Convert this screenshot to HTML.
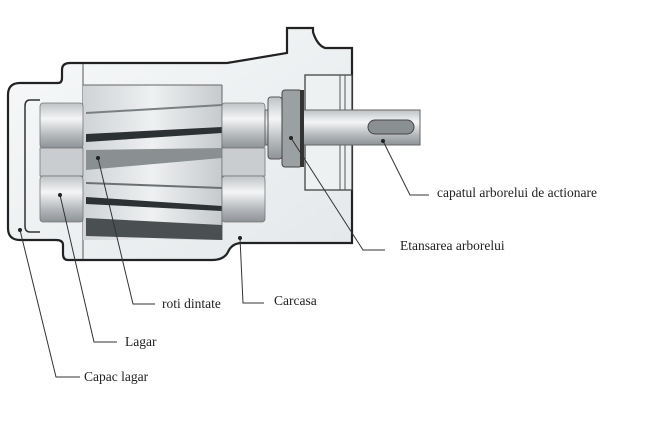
<!DOCTYPE html>
<html><head><meta charset="utf-8"><style>
html,body{margin:0;padding:0;background:#fff;width:648px;height:423px;overflow:hidden}
svg{display:block}
</style></head><body>
<svg width="648" height="423" viewBox="0 0 648 423" xmlns="http://www.w3.org/2000/svg">
<defs>
<linearGradient id="cyl" x1="0" y1="0" x2="0" y2="1">
<stop offset="0" stop-color="#bfc3c6"/><stop offset="0.35" stop-color="#f4f5f6"/><stop offset="0.7" stop-color="#b7bbbe"/><stop offset="1" stop-color="#8d9296"/></linearGradient>
<linearGradient id="gear" x1="0" y1="0" x2="1" y2="0">
<stop offset="0" stop-color="#cfd3d6"/><stop offset="0.5" stop-color="#eef0f1"/><stop offset="1" stop-color="#c6cacd"/></linearGradient>
<linearGradient id="bg" x1="0" y1="0" x2="1" y2="1">
<stop offset="0" stop-color="#f7f9fa"/><stop offset="1" stop-color="#e4e8ea"/></linearGradient>
</defs>
<path d="M20,83 L58,83 Q62,83 62,78 L62,70 Q62,63 70,63 L227,63 L287,53 L287,28 L313,28 L313,32 Q317,45 325,48 L352,48 L352,243 L242,243 Q232,243 228,252 Q224,260 212,260 L68,260 Q63,260 63,254 L63,245 Q63,240 56,240 L20,240 Q8,240 8,228 L8,95 Q8,83 20,83 Z" fill="url(#bg)" stroke="#222" stroke-width="2.2"/>
<path d="M40,100 L30,100 Q25,100 25,106 L25,226 Q25,232 30,232 L40,232" fill="none" stroke="#333" stroke-width="1.5"/>
<line x1="83" y1="64" x2="83" y2="259" stroke="#555" stroke-width="1"/>
<rect x="83" y="85" width="139" height="155" fill="url(#gear)"/>
<line x1="83" y1="85" x2="222" y2="85" stroke="#666" stroke-width="1"/>
<line x1="222" y1="85" x2="222" y2="240" stroke="#666" stroke-width="1"/>
<polygon points="86,142 86,134 222,127 222,133" fill="#2c3133"/>
<polygon points="86,112 222,104 222,106 86,114" fill="#7a7f82"/>
<polygon points="86,150 222,148 222,158 86,170" fill="#8a8f92"/>
<polygon points="86,182 222,187 222,189 86,184" fill="#6b7073"/>
<polygon points="86,197 86,204 222,211 222,206" fill="#2c3133"/>
<polygon points="86,218 222,225 222,240 86,236" fill="#4a4f52"/>
<rect x="40" y="103" width="43" height="45" rx="3" fill="url(#cyl)" stroke="#777" stroke-width="0.8"/>
<rect x="40" y="148" width="43" height="28" fill="#c9cdd0" stroke="#777" stroke-width="0.8"/>
<rect x="40" y="176" width="43" height="46" rx="3" fill="url(#cyl)" stroke="#777" stroke-width="0.8"/>
<rect x="222" y="103" width="43" height="45" rx="3" fill="url(#cyl)" stroke="#777" stroke-width="0.8"/>
<rect x="222" y="148" width="43" height="28" fill="#c9cdd0" stroke="#777" stroke-width="0.8"/>
<rect x="222" y="176" width="43" height="46" rx="3" fill="url(#cyl)" stroke="#777" stroke-width="0.8"/>
<rect x="305" y="75" width="47" height="115" fill="#eef1f2" stroke="#444" stroke-width="1.3"/>
<line x1="340" y1="75" x2="340" y2="190" stroke="#555"/>
<line x1="345" y1="75" x2="345" y2="190" stroke="#555"/>
<rect x="265" y="110" width="155" height="35" fill="url(#cyl)" stroke="#666" stroke-width="1"/>
<rect x="268" y="97" width="14" height="62" rx="3" fill="url(#cyl)" stroke="#555"/>
<rect x="282" y="90" width="20" height="77" rx="3" fill="#9ba0a3" stroke="#444"/>
<rect x="300" y="90" width="4" height="77" fill="#333"/>
<rect x="368" y="120" width="46" height="14" rx="7" fill="#8a8f92" stroke="#444"/>
<g stroke="#333" stroke-width="1" fill="none">
<polyline points="383,141 410,195 429,195"/>
<polyline points="291,138 363,250 385,250"/>
<polyline points="98,158 133,304 155,304"/>
<polyline points="240,238 243,303 264,303"/>
<polyline points="60,195 94,342 117,342"/>
<polyline points="20,230 56,377 80,377"/>
</g>
<g fill="#222"><circle cx="383" cy="141" r="2"/><circle cx="291" cy="138" r="2"/><circle cx="98" cy="158" r="2"/><circle cx="240" cy="238" r="2"/><circle cx="60" cy="195" r="2"/><circle cx="20" cy="230" r="2"/></g>
<g font-family="Liberation Serif, serif" font-size="13.5" fill="#222">
<text x="437" y="197">capatul arborelui de actionare</text>
<text x="400" y="250">Etansarea arborelui</text>
<text x="162" y="308">roti dintate</text>
<text x="274" y="305">Carcasa</text>
<text x="125" y="346">Lagar</text>
<text x="84" y="381">Capac lagar</text>
</g>
</svg>
</body></html>
